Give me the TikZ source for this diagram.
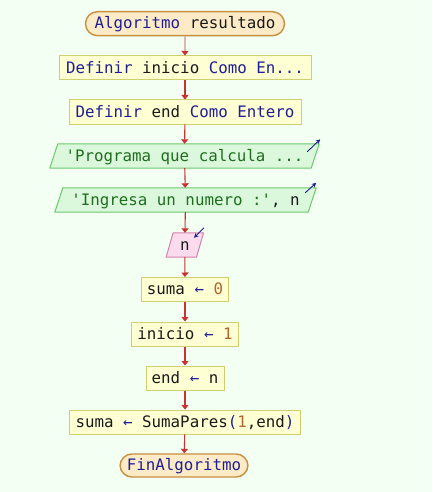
\documentclass[tikz,border=0pt]{standalone}
\usepackage{fontspec}
\setmonofont{DejaVu Sans Mono}
\usetikzlibrary{backgrounds,calc,arrows.meta}

\definecolor{pagebg}{HTML}{F4FFF4}
\definecolor{kwblue}{HTML}{1E1E96}
\definecolor{strgreen}{HTML}{1E6E1E}
\definecolor{numbrown}{HTML}{B0642E}
\definecolor{txtblack}{HTML}{1A1A1A}
\definecolor{termfill}{HTML}{FCEBC6}
\definecolor{termdraw}{HTML}{C8903E}
\definecolor{procfill}{HTML}{FFFFD4}
\definecolor{procdraw}{HTML}{CFCF6E}
\definecolor{outfill}{HTML}{DCF8DC}
\definecolor{outdraw}{HTML}{6CC86C}
\definecolor{infill}{HTML}{FCDCEC}
\definecolor{indraw}{HTML}{D282AA}
\definecolor{flowred}{HTML}{C83232}
\definecolor{flowpink}{HTML}{E4B4B4}

\newcommand\kwd[1]{\textcolor{kwblue}{#1}}
\newcommand\strc[1]{\textcolor{strgreen}{#1}}
\newcommand\numc[1]{\textcolor{numbrown}{#1}}

\tikzset{
  base/.style={minimum height=24pt, inner sep=0pt, text height=12pt, text depth=1.4pt,
    text=txtblack, font=\ttfamily\fontsize{15.8}{18}\selectfont},
  terminal/.style={base, draw=termdraw, fill=termfill, line width=1.4pt, rounded corners=12pt},
  process/.style={base, draw=procdraw, fill=procfill, line width=1pt},
  iobody/.style={base},
  outshape/.style={draw=outdraw, fill=outfill, line width=1pt, line join=round},
  inshape/.style={draw=indraw, fill=infill, line width=1pt, line join=round},
  flow/.style={draw=flowred, line width=1.1pt, -{Triangle[width=7pt,length=4.5pt]}},
  ioarrow/.style={draw=kwblue, line width=0.9pt, -{Stealth[length=4.5pt,width=4.5pt]}},
}

\begin{document}
\begin{tikzpicture}[x=1pt,y=-1pt]
  \begin{scope}[on background layer]
    \fill[pagebg] (0,0) rectangle (432,492);
  \end{scope}
  \useasboundingbox (0,0) rectangle (432,492);

  % nodes of the flow, top to bottom
  \node[terminal, minimum width=199pt] (start) at (185,23.7) {\kwd{Algoritmo} resultado};
  \node[process, minimum width=252pt] (def1) at (185,68) {\kwd{Definir} inicio \kwd{Como En...}};
  \node[process, minimum width=232pt] (def2) at (185,112) {\kwd{Definir} end \kwd{Como Entero}};
  \node[iobody, minimum width=261pt] (out1) at (184.5,156) {\strc{'Programa que calcula ...}};
  \node[iobody, minimum width=253pt] (out2) at (185.5,200) {\strc{'Ingresa un numero :'}, n};
  \node[iobody, minimum width=30pt] (read) at (184.8,245) {n};
  \node[process, minimum width=87pt] (as1) at (185,289.5) {suma \kwd{←} \numc{0}};
  \node[process, minimum width=107pt] (as2) at (185,334) {inicio \kwd{←} \numc{1}};
  \node[process, minimum width=78pt] (as3) at (185,378) {end \kwd{←} n};
  \node[process, minimum width=231pt] (as4) at (185,422) {suma \kwd{←} SumaPares\kwd{(}\numc{1},end\kwd{)}};
  \node[terminal, minimum width=128pt, minimum height=23pt] (stop) at (184,465.5) {\kwd{FinAlgoritmo}};

  % slanted input/output shapes behind their texts
  \begin{scope}[on background layer]
    \foreach \n/\s/\st in {out1/8/outshape, out2/8/outshape, read/7/inshape}{
      \path[\st] ($(\n.north west)+(\s/2,0)$) -- ($(\n.north east)+(\s/2,0)$)
        -- ($(\n.south east)+(-\s/2,0)$) -- ($(\n.south west)+(-\s/2,0)$) -- cycle;
    }
  \end{scope}

  % direction marks on input/output
  \draw[ioarrow] ($(out1.north east)+(-8,8)$) -- ($(out1.north east)+(5,-4.5)$);
  \draw[ioarrow] ($(out2.north east)+(-7,5)$) -- ($(out2.north east)+(4,-5)$);
  \draw[ioarrow] ($(read.north east)+(4,-5)$) -- ($(read.north east)+(-6,5)$);

  % connectors
  \draw[flow, draw=flowpink, -{Triangle[width=7pt,length=4.5pt,color=flowred]}] (start) -- (def1);
  \draw[flow] (def1) -- (def2);
  \draw[flow] (def2) -- (out1);
  \draw[flow] (out1) -- (out2);
  \draw[flow] (out2) -- (read);
  \draw[flow] (read) -- (as1);
  \draw[flow] (as1) -- (as2);
  \draw[flow] (as2) -- (as3);
  \draw[flow] (as3) -- (as4);
  \draw[flow] (as4) -- (stop);
\end{tikzpicture}
\end{document}
